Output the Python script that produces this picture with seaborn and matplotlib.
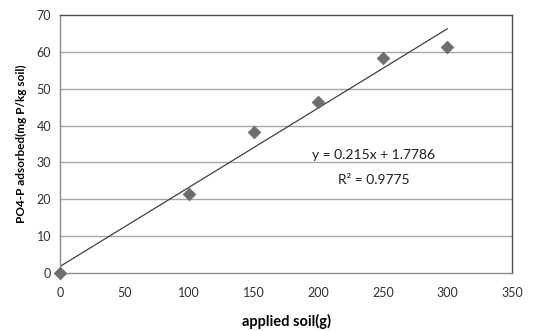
import numpy as np
import pandas as pd
import matplotlib
matplotlib.use("Agg")
import matplotlib.pyplot as plt
import seaborn as sns

applied_soil = [0, 100, 150, 200, 250, 300]
po4_adsorbed = [0.0, 21.3, 38.2, 46.3, 58.3, 61.3]
slope = 0.215
intercept = 1.7786
r2 = 0.9775
x_ticks = [0, 50, 100, 150, 200, 250, 300, 350]
y_ticks = [0, 10, 20, 30, 40, 50, 60, 70]

sns.set_theme(style="white")
plt.rcParams['font.family'] = ['Lato', 'DejaVu Sans']

df = pd.DataFrame({"x": applied_soil, "y": po4_adsorbed})

fig = plt.figure(figsize=(5.34, 3.31), dpi=100)
ax = fig.add_axes([0.1124, 0.1752, 0.8464, 0.7795])

for yv in y_ticks[1:-1]:
    ax.axhline(yv, color="#a6a6a6", lw=1.0, zorder=0)

sns.scatterplot(data=df, x="x", y="y", ax=ax, marker="D", s=42,
                color="#6e6e6e", edgecolor="#6e6e6e", linewidth=0.5, zorder=3, clip_on=False)

xl = np.array([min(applied_soil), max(applied_soil)])
sns.lineplot(x=xl, y=slope * xl + intercept, ax=ax, color="#404040", lw=0.9, zorder=2)

ax.set_xlim(0, 350)
ax.set_ylim(0, 70)
ax.set_xticks(x_ticks)
ax.set_yticks(y_ticks)
ax.tick_params(axis="both", labelsize=9, colors="#404040", length=3, width=0.8,
               direction="out", labelcolor="#303030")
ax.tick_params(axis="x", pad=7)

for side in ["left", "bottom"]:
    ax.spines[side].set_color("#8c8c8c")
    ax.spines[side].set_linewidth(1.0)
for side in ["top", "right"]:
    ax.spines[side].set_color("#4d4d4d")
    ax.spines[side].set_linewidth(1.0)

ax.set_xlabel("applied soil(g)", fontsize=10.5, fontweight="bold", color="#000000", labelpad=11)
ax.set_ylabel("PO4-P adsorbed(mg P/kg soil)", fontsize=8.5, fontweight="bold", color="#000000", labelpad=7)

ax.text(243, 32.0, "y = 0.215x + 1.7786", ha="center", va="center", fontsize=10, color="#202020")
ax.text(243, 25.2, "R² = 0.9775", ha="center", va="center", fontsize=10, color="#202020")

fig.savefig("out.png", dpi=100, facecolor="white")
